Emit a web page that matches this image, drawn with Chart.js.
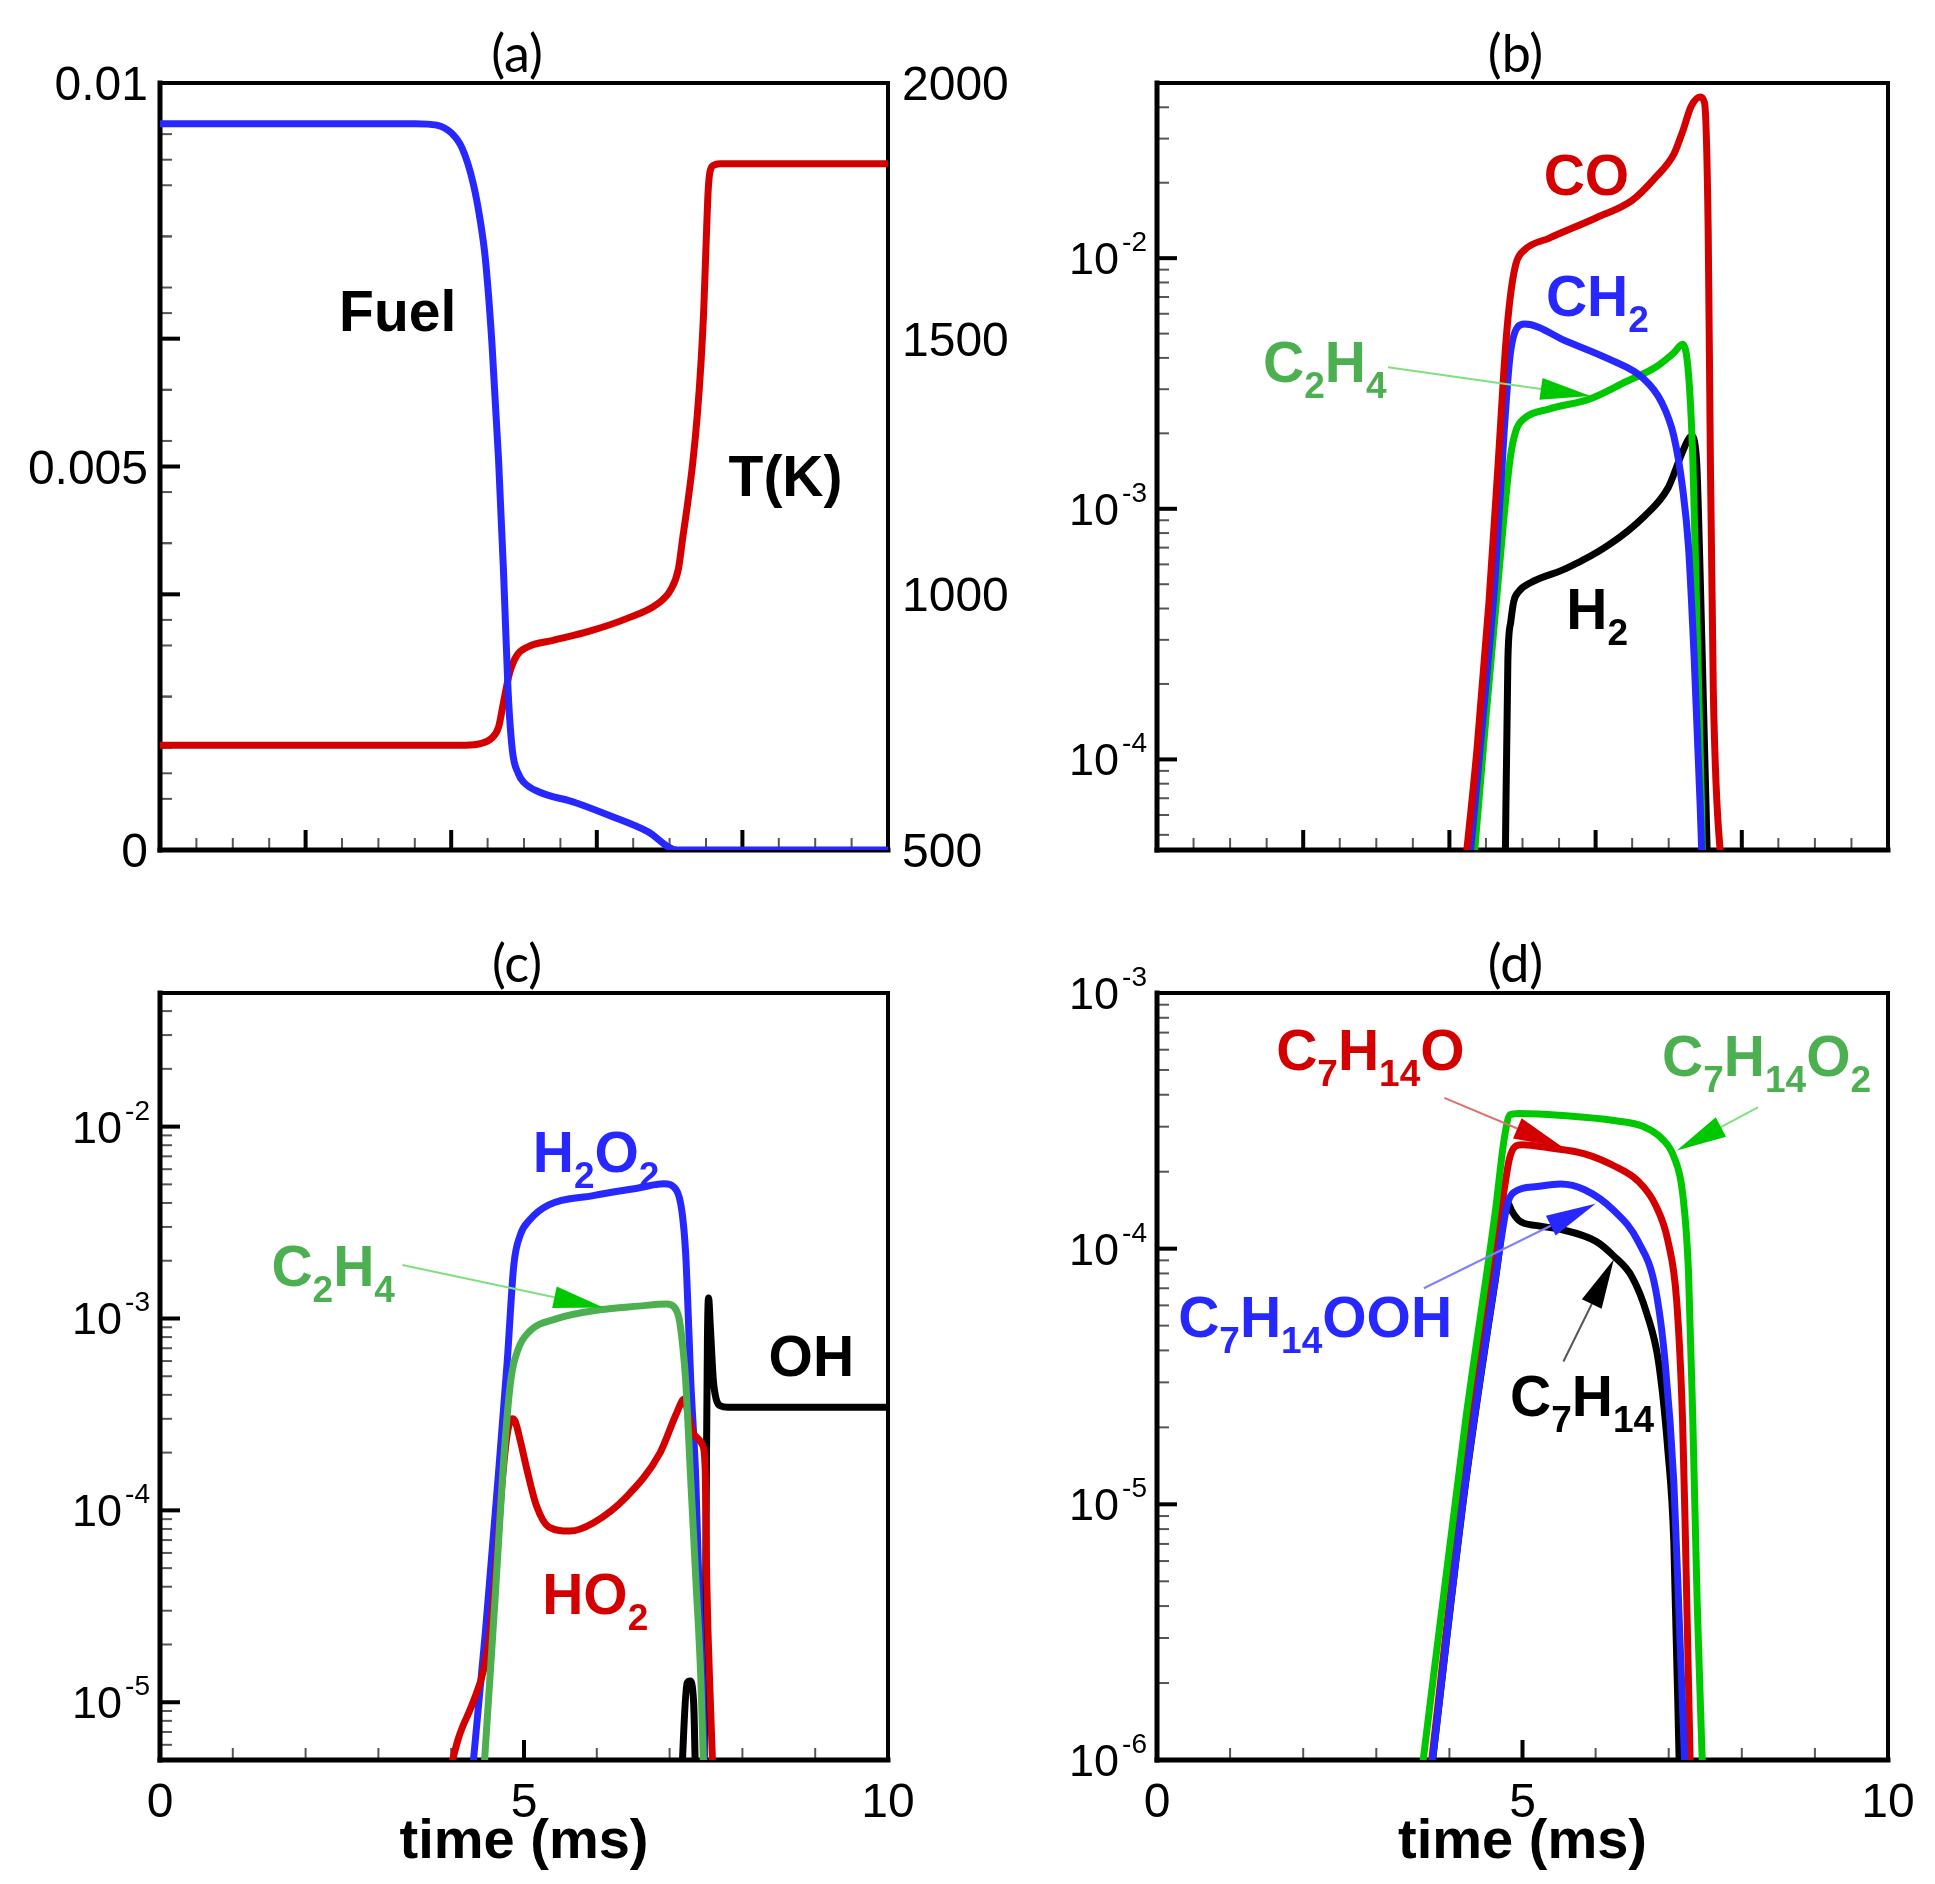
<!DOCTYPE html>
<html>
<head>
<meta charset="utf-8">
<title>Species profiles</title>
<script src="https://cdn.jsdelivr.net/npm/chart.js@4.4.0/dist/chart.umd.min.js"></script>
<style>
  body { margin: 0; background: #fff; }
  #wrap { position: relative; width: 1935px; height: 1884px; background: #fff; }
  canvas { position: absolute; }
</style>
</head>
<body>
<div id="wrap">
  <canvas id="panelA" width="1060" height="940" style="left:0px;top:0px"></canvas>
  <canvas id="panelB" width="967" height="940" style="left:968px;top:0px"></canvas>
  <canvas id="panelC" width="968" height="944" style="left:0px;top:940px"></canvas>
  <canvas id="panelD" width="967" height="944" style="left:968px;top:940px"></canvas>
</div>
<script>
// ---- (a) fuel mass fraction and temperature ----
const fuelTime = [0, 3.5, 3.8, 4.0, 4.15, 4.3, 4.4, 4.47, 4.56, 4.65, 4.72, 4.78, 4.84, 4.92, 5.0, 5.2, 5.7, 6.2, 6.7, 7.1, 10];
const fuelMass = [0.00947, 0.00947, 0.00945, 0.00935, 0.00915, 0.0087, 0.0082, 0.0077, 0.0066, 0.0051, 0.0036, 0.0021, 0.0013, 0.0010, 0.00088, 0.00076, 0.00062, 0.00044, 0.00024, 0, 0];
const tempTime = [0, 4.2, 4.4, 4.55, 4.65, 4.72, 4.8, 4.9, 5.05, 5.4, 5.9, 6.4, 6.84, 7.02, 7.12, 7.18, 7.25, 7.32, 7.38, 7.43, 7.47, 7.5, 7.53, 7.56, 7.62, 7.7, 10];
const tempK = [705, 705, 708, 718, 740, 790, 845, 880, 897, 910, 928, 952, 982, 1010, 1049, 1110, 1180, 1260, 1350, 1450, 1560, 1680, 1790, 1830, 1840, 1842, 1842];

// ---- (b) CO, CH2, C2H4, H2 ----
const coTime = [4.18, 4.38, 4.54, 4.67, 4.77, 4.83, 4.91, 5.03, 5.36, 6.01, 6.5, 6.82, 7.07, 7.19, 7.31, 7.43, 7.49, 7.54, 7.57, 7.61, 7.74];
const coFrac = [3.0e-5, 1.12e-4, 4.2e-4, 1.57e-3, 4.5e-3, 6.9e-3, 9.5e-3, 1.08e-2, 1.2e-2, 1.45e-2, 1.7e-2, 2.1e-2, 2.6e-2, 3.2e-2, 4.05e-2, 4.4e-2, 4.17e-2, 1.3e-2, 1.58e-3, 1.9e-4, 3.0e-5];
const ch2Time = [4.24, 4.46, 4.63, 4.75, 4.83, 4.93, 5.03, 5.6, 6.17, 6.66, 6.9, 7.07, 7.19, 7.27, 7.35, 7.43, 7.47];
const ch2Frac = [3.0e-5, 1.47e-4, 5.5e-4, 2.05e-3, 4.08e-3, 5.3e-3, 5.46e-3, 4.66e-3, 3.97e-3, 3.3e-3, 2.67e-3, 1.95e-3, 1.21e-3, 7.1e-4, 2.48e-4, 6.6e-5, 3.0e-5];
const c2h4bTime = [4.3, 4.5, 4.71, 4.83, 4.91, 5.03, 5.36, 5.93, 6.42, 6.82, 7.07, 7.19, 7.27, 7.33, 7.39, 7.45, 7.47];
const c2h4bFrac = [3.0e-5, 1.47e-4, 7.1e-4, 1.58e-3, 2.05e-3, 2.3e-3, 2.5e-3, 2.75e-3, 3.22e-3, 3.67e-3, 4.19e-3, 4.53e-3, 3.48e-3, 1.58e-3, 3.24e-4, 6.3e-5, 3.0e-5];
const h2Time = [4.76, 4.8, 4.84, 4.88, 4.95, 5.11, 5.6, 6.17, 6.66, 6.99, 7.15, 7.25, 7.31, 7.38, 7.43, 7.49, 7.54];
const h2Frac = [3.0e-5, 2.5e-4, 3.55e-4, 4.27e-4, 4.68e-4, 5.07e-4, 5.78e-4, 7.14e-4, 9.3e-4, 1.21e-3, 1.58e-3, 1.85e-3, 1.95e-3, 1.58e-3, 5.5e-4, 1.12e-4, 3.0e-5];

// ---- (c) H2O2, C2H4, HO2, OH ----
const h2o2Time = [4.25, 4.47, 4.64, 4.77, 4.86, 4.95, 5.08, 5.34, 5.95, 6.57, 6.92, 7.09, 7.17, 7.22, 7.25, 7.29, 7.36, 7.4, 7.45, 7.49];
const h2o2Frac = [3.0e-6, 2.33e-5, 1.41e-4, 6.0e-4, 1.9e-3, 2.73e-3, 3.27e-3, 3.91e-3, 4.37e-3, 4.79e-3, 5.04e-3, 4.69e-3, 3.6e-3, 2.2e-3, 1.2e-3, 4.8e-4, 1.45e-4, 4.4e-5, 1.3e-5, 3.0e-6];
const c2h4cTime = [4.42, 4.6, 4.73, 4.82, 4.92, 5.08, 5.43, 6.04, 6.57, 6.96, 7.06, 7.13, 7.18, 7.22, 7.29, 7.36, 7.43, 7.48];
const c2h4cFrac = [3.0e-6, 3.33e-5, 2.03e-4, 4.82e-4, 6.92e-4, 8.6e-4, 9.93e-4, 1.11e-3, 1.16e-3, 1.19e-3, 1.15e-3, 1.0e-3, 7.2e-4, 4.8e-4, 1.45e-4, 4.4e-5, 1.3e-5, 3.0e-6];
const ho2Time = [3.88, 4.1, 4.3, 4.45, 4.55, 4.63, 4.7, 4.77, 4.84, 4.88, 4.95, 5.04, 5.17, 5.34, 5.63, 5.95, 6.41, 6.87, 7.1, 7.2, 7.27, 7.33, 7.45, 7.49, 7.51, 7.56, 7.61];
const ho2Frac = [3.0e-6, 6.5e-6, 1.0e-5, 1.5e-5, 2.6e-5, 6.0e-5, 1.4e-4, 2.5e-4, 3.0e-4, 2.9e-4, 2.3e-4, 1.63e-4, 1.06e-4, 8.2e-5, 7.8e-5, 8.6e-5, 1.18e-4, 2.0e-4, 3.24e-4, 3.8e-4, 3.0e-4, 2.5e-4, 2.2e-4, 1.6e-4, 4.4e-5, 1.0e-5, 3.0e-6];
const ohTime = [7.15, 7.24, 7.28, 7.33, 7.37, 7.47, 7.505, 7.52, 7.535, 7.56, 7.6, 7.64, 7.7, 7.8, 10];
const ohFrac = [3.0e-6, 1.26e-5, 1.29e-5, 1.0e-5, 3.0e-6, 3.0e-6, 1.5e-4, 8.0e-4, 1.28e-3, 9.0e-4, 4.8e-4, 3.8e-4, 3.5e-4, 3.45e-4, 3.45e-4];

// ---- (d) C7 intermediates ----
const c7h14o2Time = [3.6, 4.22, 4.63, 4.75, 4.83, 4.95, 5.6, 6.25, 6.66, 6.91, 7.07, 7.19, 7.27, 7.33, 7.39, 7.47];
const c7h14o2Frac = [8.0e-7, 2.11e-5, 1.41e-4, 2.69e-4, 3.34e-4, 3.38e-4, 3.31e-4, 3.17e-4, 3.0e-4, 2.69e-4, 2.29e-4, 1.65e-4, 8.2e-5, 2.11e-5, 4.1e-6, 8.0e-7];
const c7h14oTime = [3.72, 4.22, 4.63, 4.76, 4.82, 4.9, 5.0, 5.36, 5.85, 6.25, 6.58, 6.82, 6.99, 7.11, 7.19, 7.23, 7.3];
const c7h14oFrac = [8.0e-7, 1.41e-5, 1.0e-4, 1.78e-4, 2.24e-4, 2.51e-4, 2.55e-4, 2.48e-4, 2.35e-4, 2.11e-4, 1.84e-4, 1.48e-4, 1.07e-4, 6.2e-5, 2.11e-5, 7.1e-6, 8.0e-7];
const c7h14oohTime = [3.73, 4.22, 4.63, 4.79, 4.87, 5.2, 5.52, 5.85, 6.25, 6.58, 6.82, 6.95, 7.07, 7.15, 7.23];
const c7h14oohFrac = [8.0e-7, 1.22e-5, 7.7e-5, 1.48e-4, 1.65e-4, 1.75e-4, 1.79e-4, 1.7e-4, 1.41e-4, 1.07e-4, 6.95e-5, 3.62e-5, 1.22e-5, 3.2e-6, 8.0e-7];
const c7h14Time = [3.73, 4.22, 4.63, 4.8, 4.85, 4.95, 5.2, 5.52, 6.0, 6.25, 6.5, 6.7, 6.86, 6.99, 7.07, 7.15];
const c7h14Frac = [8.0e-7, 1.2e-5, 7.6e-5, 1.51e-4, 1.41e-4, 1.29e-4, 1.23e-4, 1.19e-4, 1.07e-4, 9.35e-5, 7.74e-5, 5.58e-5, 3.62e-5, 1.61e-5, 7.1e-6, 8.0e-7];

// tick labels
const panelTitles = ['(a)', '(b)', '(c)', '(d)'];
const xTickValues = [0, 5, 10];
const xTickText = ['0', '5', '10'];
const fuelTickValues = [0, 0.005, 0.01];
const fuelTickText = ['0', '0.005', '0.01'];
const tempTickValues = [500, 1000, 1500, 2000];
const tempTickText = ['500', '1000', '1500', '2000'];
const xAxisTitle = 'time (ms)';

const BLUE = '#2727ff', RED = '#d40000', GREEN = '#00c800', DULLGREEN = '#4caf50', BLACK = '#000000';
const FONT = '"Liberation Sans", Arial, Helvetica, sans-serif';

function pts(t, v) {
  return t.map((x, i) => ({ x: x, y: v[i] }));
}

function series(name, t, v, color, yAxis) {
  return {
    label: name,
    data: pts(t, v),
    borderColor: color,
    borderWidth: 7,
    pointRadius: 0,
    fill: false,
    clip: 0,
    tension: 0.4,
    cubicInterpolationMode: 'monotone',
    yAxisID: yAxis || 'y'
  };
}

function line(ctx, x1, y1, x2, y2, w, color) {
  ctx.strokeStyle = color;
  ctx.lineWidth = w;
  ctx.beginPath();
  ctx.moveTo(x1, y1);
  ctx.lineTo(x2, y2);
  ctx.stroke();
}

// species names: every digit run is a subscript
function drawFormula(ctx, text, x, y, color) {
  const parts = text.match(/\d+|\D+/g);
  let cx = x;
  ctx.fillStyle = color;
  ctx.textAlign = 'left';
  ctx.textBaseline = 'alphabetic';
  parts.forEach((p) => {
    const sub = /^\d/.test(p);
    ctx.font = (sub ? 'bold 37px ' : 'bold 57px ') + FONT;
    ctx.fillText(p, cx, sub ? y + 16 : y);
    cx += ctx.measureText(p).width;
  });
}

function arrow(ctx, x1, y1, x2, y2, lineColor, headColor) {
  const ang = Math.atan2(y2 - y1, x2 - x1);
  const len = 50, half = 11;
  const bx = x2 - len * Math.cos(ang), by = y2 - len * Math.sin(ang);
  line(ctx, x1, y1, bx, by, 2, lineColor);
  ctx.fillStyle = headColor;
  ctx.beginPath();
  ctx.moveTo(x2, y2);
  ctx.lineTo(bx + half * Math.sin(ang), by - half * Math.cos(ang));
  ctx.lineTo(bx - half * Math.sin(ang), by + half * Math.cos(ang));
  ctx.closePath();
  ctx.fill();
}

function decor(cfg) {
  return {
    id: 'decor',
    beforeDatasetsDraw(chart) {
      const ctx = chart.ctx, a = chart.chartArea;
      const xs = chart.scales.x, ys = chart.scales.y;
      ctx.save();
      ctx.lineCap = 'butt';
      // bottom axis ticks (inward)
      cfg.xMinor.forEach((v) => {
        const px = xs.getPixelForValue(v);
        line(ctx, px, a.bottom, px, a.bottom - 12, 2, '#555');
      });
      cfg.xMajor.forEach((v) => {
        const px = xs.getPixelForValue(v);
        line(ctx, px, a.bottom, px, a.bottom - 20, 4, '#000');
      });
      // left axis ticks
      if (ys.type === 'logarithmic') {
        const d0 = Math.floor(Math.log10(ys.min) - 1e-9), d1 = Math.ceil(Math.log10(ys.max) + 1e-9);
        for (let d = d0; d <= d1; d++) {
          for (let k = 1; k <= 9; k++) {
            const v = k * Math.pow(10, d);
            if (v < ys.min * 0.999 || v > ys.max * 1.001) continue;
            const py = ys.getPixelForValue(v);
            if (k === 1) line(ctx, a.left, py, a.left + 20, py, 4, '#000');
            else line(ctx, a.left, py, a.left + 12, py, 2, '#555');
          }
        }
      } else {
        cfg.yMinor.forEach((v) => {
          const py = ys.getPixelForValue(v);
          line(ctx, a.left, py, a.left + 12, py, 2, '#555');
        });
        cfg.yMajor.forEach((v) => {
          const py = ys.getPixelForValue(v);
          line(ctx, a.left, py, a.left + 20, py, 4, '#000');
        });
        if (chart.scales.y1) {
          const y1 = chart.scales.y1;
          cfg.tMinor.forEach((v) => {
            const py = y1.getPixelForValue(v);
            line(ctx, a.left, py, a.left + 12, py, 2, '#555');
          });
          cfg.tMajor.forEach((v) => {
            const py = y1.getPixelForValue(v);
            line(ctx, a.left, py, a.left + 20, py, 4, '#000');
          });
        }
      }
      // frame
      ctx.lineCap = 'square';
      line(ctx, a.left, a.top, a.right, a.top, 4, '#000');
      line(ctx, a.right, a.top, a.right, a.bottom, 4, '#000');
      line(ctx, a.left, a.top, a.left, a.bottom, 5, '#000');
      line(ctx, a.left, a.bottom, a.right, a.bottom, 5, '#000');
      ctx.restore();
    },
    afterDatasetsDraw(chart) {
      const ctx = chart.ctx, a = chart.chartArea;
      const xs = chart.scales.x, ys = chart.scales.y;
      ctx.save();
      // panel title
      ctx.fillStyle = '#000';
      ctx.font = '52px Lato, "Open Sans", sans-serif';
      ctx.textAlign = 'center';
      ctx.textBaseline = 'alphabetic';
      ctx.fillText(cfg.title, (a.left + a.right) / 2 - 7, a.top - 11);

      // left tick labels
      if (ys.type === 'logarithmic') {
        const d0 = Math.ceil(Math.log10(ys.min) - 1e-9), d1 = Math.floor(Math.log10(ys.max) + 1e-9);
        for (let d = d0; d <= d1; d++) {
          const py = ys.getPixelForValue(Math.pow(10, d));
          const expText = String(d);
          ctx.textAlign = 'left';
          ctx.font = '28px ' + FONT;
          const ew = ctx.measureText(expText).width;
          ctx.font = '45px ' + FONT;
          const bw = ctx.measureText('10').width;
          const x0 = a.left - 10 - ew - bw - 3;
          ctx.fillText('10', x0, py + 16);
          ctx.font = '28px ' + FONT;
          ctx.fillText(expText, x0 + bw + 3, py - 7);
        }
      } else {
        ctx.font = '48px ' + FONT;
        ctx.textAlign = 'right';
        cfg.yTickValues.forEach((v, i) => {
          ctx.fillText(cfg.yTickText[i], a.left - 12, ys.getPixelForValue(v) + 17);
        });
      }
      if (chart.scales.y1) {
        const y1 = chart.scales.y1;
        ctx.font = '48px ' + FONT;
        ctx.textAlign = 'left';
        tempTickValues.forEach((v, i) => {
          ctx.fillText(tempTickText[i], a.right + 14, y1.getPixelForValue(v) + 17);
        });
      }
      // bottom tick labels and axis title
      if (cfg.xLabels) {
        ctx.font = '48px ' + FONT;
        ctx.textAlign = 'center';
        xTickValues.forEach((v, i) => {
          ctx.fillText(xTickText[i], xs.getPixelForValue(v), a.bottom + 57);
        });
        ctx.font = 'bold 56px ' + FONT;
        ctx.fillText(xAxisTitle, (a.left + a.right) / 2, a.bottom + 98);
      }
      // arrows
      cfg.arrows.forEach((r) => {
        arrow(ctx, xs.getPixelForValue(r.x1), ys.getPixelForValue(r.y1),
          xs.getPixelForValue(r.x2), ys.getPixelForValue(r.y2), r.line, r.head);
      });
      // species names
      cfg.labels.forEach((l) => {
        drawFormula(ctx, l.text, xs.getPixelForValue(l.x), ys.getPixelForValue(l.y), l.color);
      });
      ctx.restore();
    }
  };
}

function makeChart(id, datasets, scales, pad, cfg) {
  return new Chart(document.getElementById(id), {
    type: 'line',
    data: { datasets: datasets },
    options: {
      responsive: false,
      animation: false,
      devicePixelRatio: 1,
      events: [],
      layout: { padding: pad },
      plugins: { legend: { display: false }, tooltip: { enabled: false } },
      elements: { line: { capBezierPoints: false, borderJoinStyle: 'round' } },
      scales: scales
    },
    plugins: [decor(cfg)]
  });
}

const halfSteps = [];
for (let v = 0.5; v < 10; v += 0.5) halfSteps.push(v);
const unitSteps = [1, 2, 3, 4, 6, 7, 8, 9];
const fuelMinor = [0.001, 0.002, 0.003, 0.004, 0.006, 0.007, 0.008, 0.009];
const tempMinor = [600, 700, 800, 900, 1100, 1200, 1300, 1400, 1600, 1700, 1800, 1900];

const xLin = { type: 'linear', min: 0, max: 10, display: false };

// (a)
makeChart('panelA',
  [series('Fuel', fuelTime, fuelMass, BLUE), series('T(K)', tempTime, tempK, RED, 'y1')],
  {
    x: xLin,
    y: { type: 'linear', min: 0, max: 0.01, display: false },
    y1: { type: 'linear', min: 500, max: 2000, display: false, position: 'right' }
  },
  { left: 160, top: 83, right: 172, bottom: 90 },
  {
    title: panelTitles[0], xLabels: false,
    xMajor: [2, 4, 6, 8], xMinor: halfSteps,
    yMajor: [0.005], yMinor: fuelMinor, tMajor: [1000, 1500], tMinor: tempMinor,
    yTickValues: fuelTickValues, yTickText: fuelTickText,
    labels: [
      { text: 'Fuel', x: 2.46, y: 0.00677, color: BLACK },
      { text: 'T(K)', x: 7.81, y: 0.00462, color: BLACK }
    ],
    arrows: []
  });

// (b)
makeChart('panelB',
  [series('CO', coTime, coFrac, RED), series('CH2', ch2Time, ch2Frac, BLUE),
   series('C2H4', c2h4bTime, c2h4bFrac, GREEN), series('H2', h2Time, h2Frac, BLACK)],
  {
    x: xLin,
    y: { type: 'logarithmic', min: 4.35e-5, max: 0.05, display: false }
  },
  { left: 189, top: 83, right: 47, bottom: 90 },
  {
    title: panelTitles[1], xLabels: false,
    xMajor: [2, 4, 6, 8], xMinor: halfSteps,
    labels: [
      { text: 'CO', x: 5.29, y: 1.79e-2, color: RED },
      { text: 'CH2', x: 5.32, y: 5.9e-3, color: BLUE },
      { text: 'C2H4', x: 1.45, y: 3.21e-3, color: DULLGREEN },
      { text: 'H2', x: 5.6, y: 3.32e-4, color: BLACK }
    ],
    arrows: [
      { x1: 3.16, y1: 3.67e-3, x2: 5.93, y2: 2.82e-3, line: '#7ee07e', head: GREEN }
    ]
  });

// (c)
makeChart('panelC',
  [series('C2H4', c2h4cTime, c2h4cFrac, DULLGREEN), series('HO2', ho2Time, ho2Frac, RED),
   series('H2O2', h2o2Time, h2o2Frac, BLUE), series('OH', ohTime, ohFrac, BLACK)],
  {
    x: xLin,
    y: { type: 'logarithmic', min: 5.0e-6, max: 0.0497, display: false }
  },
  { left: 160, top: 53, right: 80, bottom: 124 },
  {
    title: panelTitles[2], xLabels: true,
    xMajor: [5], xMinor: unitSteps,
    labels: [
      { text: 'H2O2', x: 5.12, y: 5.83e-3, color: BLUE },
      { text: 'C2H4', x: 1.53, y: 1.48e-3, color: DULLGREEN },
      { text: 'OH', x: 8.36, y: 5.0e-4, color: BLACK },
      { text: 'HO2', x: 5.25, y: 2.89e-5, color: RED }
    ],
    arrows: [
      { x1: 3.33, y1: 1.9e-3, x2: 6.09, y2: 1.14e-3, line: '#7ee07e', head: GREEN }
    ]
  });

// (d)
makeChart('panelD',
  [series('C7H14O2', c7h14o2Time, c7h14o2Frac, GREEN), series('C7H14OOH', c7h14oohTime, c7h14oohFrac, BLUE),
   series('C7H14O', c7h14oTime, c7h14oFrac, RED), series('C7H14', c7h14Time, c7h14Frac, BLACK)],
  {
    x: xLin,
    y: { type: 'logarithmic', min: 1e-6, max: 1e-3, display: false }
  },
  { left: 189, top: 53, right: 47, bottom: 124 },
  {
    title: panelTitles[3], xLabels: true,
    xMajor: [5], xMinor: unitSteps,
    labels: [
      { text: 'C7H14O', x: 1.63, y: 5.02e-4, color: RED },
      { text: 'C7H14O2', x: 6.91, y: 4.75e-4, color: DULLGREEN },
      { text: 'C7H14OOH', x: 0.29, y: 4.5e-5, color: BLUE },
      { text: 'C7H14', x: 4.83, y: 2.22e-5, color: BLACK }
    ],
    arrows: [
      { x1: 3.93, y1: 3.89e-4, x2: 5.56, y2: 2.48e-4, line: '#e07070', head: RED },
      { x1: 8.22, y1: 3.57e-4, x2: 7.11, y2: 2.42e-4, line: '#7ee07e', head: GREEN },
      { x1: 3.65, y1: 7.0e-5, x2: 6.0, y2: 1.5e-4, line: '#8080ff', head: BLUE },
      { x1: 5.56, y1: 3.62e-5, x2: 6.25, y2: 9.1e-5, line: '#555555', head: BLACK }
    ]
  });
</script>
</body>
</html>
